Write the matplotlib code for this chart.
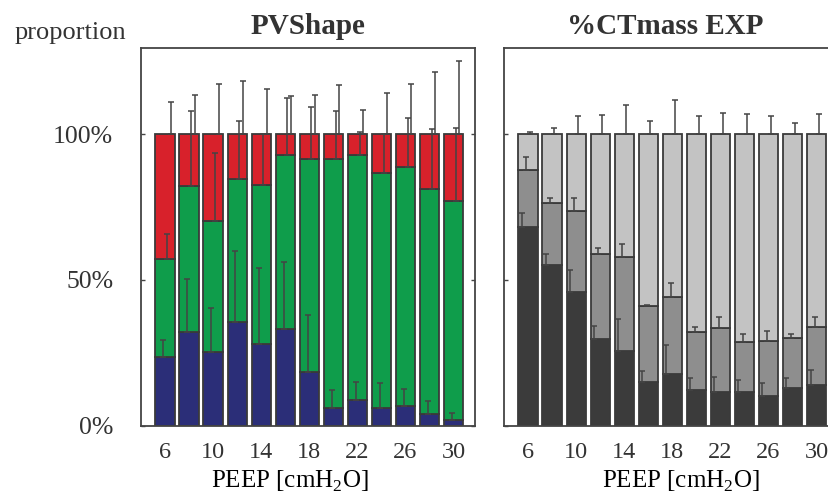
import numpy as np
import matplotlib
matplotlib.use('Agg')
import matplotlib.pyplot as plt

plt.rcParams['font.family'] = ['Liberation Serif', 'DejaVu Serif']
plt.rcParams['text.color'] = '#333333'
plt.rcParams['axes.edgecolor'] = '#444444'
plt.rcParams['mathtext.fontset'] = 'custom'
plt.rcParams['mathtext.rm'] = 'Liberation Serif'

peep = [6, 8, 10, 12, 14, 16, 18, 20, 22, 24, 26, 28, 30]
tick_peep = [6, 10, 14, 18, 22, 26, 30]

# PVShape, segment sizes in % (bottom -> top) and upper SD
pv_blue = [23.7, 32.2, 25.4, 35.7, 28.0, 33.3, 18.3, 5.9, 8.8, 5.9, 6.9, 4.0, 1.9]
pv_green = [33.5, 50.1, 45.0, 48.9, 54.6, 59.6, 73.2, 85.6, 84.0, 80.7, 81.8, 77.1, 75.3]
pv_red = [42.8, 17.7, 29.6, 15.4, 17.4, 7.1, 8.5, 8.5, 7.2, 13.4, 11.3, 18.9, 22.8]
pv_blue_sd = [5.7, 18.0, 15.1, 24.1, 26.0, 22.9, 19.7, 6.3, 6.3, 8.6, 5.6, 4.6, 2.6]
pv_green_sd = [8.6, 25.8, 23.3, 20.1, 17.4, 19.5, 18.0, 16.6, 7.9, 13.4, 16.9, 20.6, 24.9]
pv_red_sd = [11.2, 13.5, 17.2, 18.3, 15.6, 13.2, 13.5, 16.9, 8.4, 14.3, 17.3, 21.2, 25.2]

# %CTmass EXP
ct_dark = [68.3, 55.0, 45.8, 29.7, 25.6, 15.1, 17.7, 12.2, 11.7, 11.7, 10.2, 13.0, 14.0]
ct_mid = [19.5, 21.3, 27.9, 29.1, 32.4, 26.1, 26.6, 20.1, 21.7, 17.1, 18.9, 17.2, 19.8]
ct_light = [12.2, 23.7, 26.3, 41.2, 42.0, 58.8, 55.7, 67.7, 66.6, 71.2, 70.9, 69.8, 66.2]
ct_dark_sd = [4.6, 3.8, 7.6, 4.6, 10.9, 3.7, 10.0, 4.3, 5.1, 4.0, 4.6, 3.5, 5.1]
ct_mid_sd = [4.3, 1.7, 4.3, 2.3, 4.4, 0.2, 4.6, 1.7, 4.0, 2.7, 3.4, 1.3, 3.4]
ct_light_sd = [0.7, 2.1, 6.1, 6.6, 10.1, 4.6, 11.8, 6.1, 7.4, 7.0, 6.3, 3.8, 7.0]


def stacked(ax, segs, sds, colors, offsets):
    x = np.array(peep, dtype=float)
    bottom = np.zeros(len(x))
    for seg, sd, col, off in zip(segs, sds, colors, offsets):
        seg = np.array(seg)
        ax.bar(x, seg, width=1.6, bottom=bottom, color=col,
               edgecolor='#3a3a3a', linewidth=1.3, zorder=2)
        top = bottom + seg
        ax.errorbar(x + off, top, yerr=[np.zeros(len(x)), sd], fmt='none',
                    ecolor='#444444', elinewidth=1.1, capsize=2.5,
                    capthick=1.1, zorder=3)
        bottom = top


def style(ax, title, title_x, xlab_x):
    ax.set_xlim(4.0, 31.8)
    ax.set_ylim(0, 129.6)
    ax.set_xticks(tick_peep)
    ax.set_xticklabels([str(v) for v in tick_peep], fontsize=17.5)
    ax.set_yticks([0, 50, 100])
    ax.tick_params(axis='x', length=0, pad=12, colors='#333333')
    ax.tick_params(axis='y', direction='in', length=3, width=1,
                   left=True, right=True, colors='#444444')
    for s in ax.spines.values():
        s.set_linewidth(1.3)
    ax.set_title(title, fontsize=21, fontweight='bold', x=title_x, pad=10)
    ax.set_xlabel('PEEP [cmH$_2$O]', fontsize=18)
    ax.xaxis.set_label_coords(xlab_x, -0.115)


fig = plt.figure(figsize=(8.29, 4.98), dpi=100)
ax1 = fig.add_axes([0.1701, 0.1452, 0.4029, 0.7584])
ax2 = fig.add_axes([0.6080, 0.1452, 0.4029, 0.7584])

stacked(ax1, [pv_blue, pv_green, pv_red], [pv_blue_sd, pv_green_sd, pv_red_sd],
        ['#2b2e78', '#0f9d4b', '#d8212b'], [-0.14, 0.19, 0.5])
stacked(ax2, [ct_dark, ct_mid, ct_light], [ct_dark_sd, ct_mid_sd, ct_light_sd],
        ['#3b3b3b', '#8e8e8e', '#c3c3c3'], [-0.49, -0.14, 0.19])

style(ax1, 'PVShape', 0.5, 0.446)
style(ax2, '%CTmass EXP', 0.482, 0.53)

ax1.set_yticklabels(['0%', '50%', '100%'], fontsize=18.5, color='#333333')
ax1.tick_params(axis='y', pad=20, labelcolor='#333333')
ax2.set_yticklabels([])

fig.text(0.018, 0.922, 'proportion', fontsize=19, va='baseline', ha='left')

fig.savefig('out.png', dpi=100)
